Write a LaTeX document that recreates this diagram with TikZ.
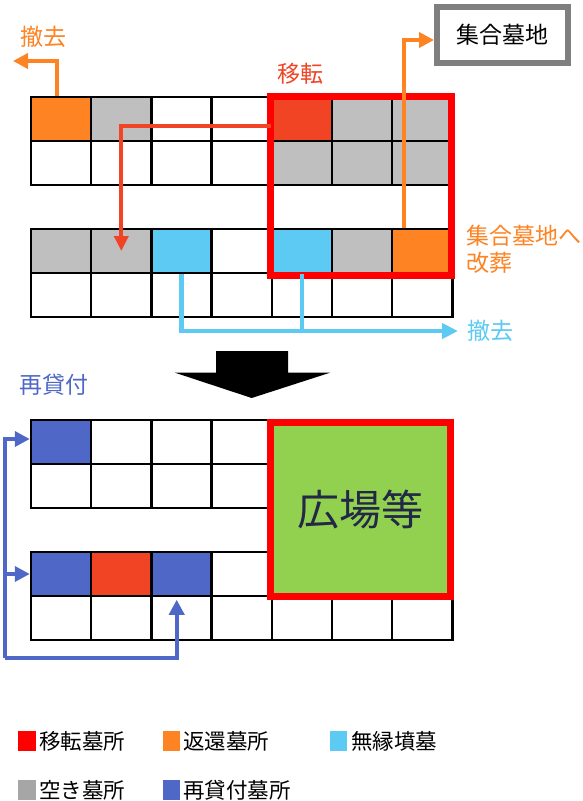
\documentclass[tikz,border=0pt]{standalone}
\usepackage{fontspec}
\newfontfamily\jp{Noto Sans CJK JP}
\usetikzlibrary{arrows.meta}
\definecolor{cor}{RGB}{253,131,35}
\definecolor{cred}{RGB}{240,68,37}
\definecolor{cgr}{RGB}{191,191,191}
\definecolor{ccy}{RGB}{92,202,243}
\definecolor{cbl}{RGB}{79,104,199}
\definecolor{cgreen}{RGB}{146,208,80}
\definecolor{cnavy}{RGB}{34,40,70}
\definecolor{cbox}{RGB}{127,127,127}
\definecolor{clgr}{RGB}{166,166,166}
\begin{document}
\begin{tikzpicture}[x=1pt,y=-1pt,
  cell/.style={draw=black, line width=2.5pt, minimum width=60.2pt, minimum height=44pt, inner sep=0pt},
  lab/.style={font=\jp\fontsize{23}{27}\selectfont, inner sep=0pt},
  frame/.style={draw=red, line width=7pt, inner sep=0pt},
  oarr/.style={draw=cor, line width=4.5pt, -{Triangle[width=15pt,length=15pt]}},
  rarr/.style={draw=cred, line width=4pt, -{Triangle[width=14pt,length=15pt]}},
  carr/.style={draw=ccy, line width=4.3pt, -{Triangle[width=15pt,length=16pt]}},
  cline/.style={draw=ccy, line width=4.3pt},
  barr/.style={draw=cbl, line width=4pt, -{Triangle[width=15pt,length=15pt]}},
  legsq/.style={minimum width=17.5pt, minimum height=20pt, inner sep=0pt},
  legtx/.style={font=\jp\fontsize{21.5}{26}\selectfont, inner sep=0pt, anchor=west}
]
\fill[white] (0,0) rectangle (583,801);
\useasboundingbox (0,0) rectangle (583,801);

% grids
\foreach \blk/\yy/\cols in {
  A1/119/{cor,cgr,white,white,cred,cgr,cgr},
  A2/163/{white,white,white,white,cgr,cgr,cgr},
  B1/251/{cgr,cgr,ccy,white,ccy,cgr,cor},
  B2/295/{white,white,white,white,white,white,white},
  C1/442/{cbl,white,white,white,white,white,white},
  C2/486/{white,white,white,white,white,white,white},
  D1/574/{cbl,cred,cbl,white,white,white,white},
  D2/618/{white,white,white,white,white,white,white}}
{
  \foreach \col [count=\c] in \cols {
    \node[cell, fill=\col] (\blk-\c) at ({31+60.2*(\c-0.5)},\yy) {};
  }
}

% red frame (top)
\node[frame, minimum width=181pt, minimum height=178.5pt] (frameA) at (360.5,185.75) {};

% plaza
\node[frame, fill=cgreen, minimum width=180pt, minimum height=174pt, text=cnavy,
      font=\jp\fontsize{42}{48}\selectfont] (plaza) at (360.5,509.5) {広場等};

% collective grave box
\node[draw=cbox, line width=6pt, minimum width=131pt, minimum height=56pt, inner sep=0pt,
      font=\jp\fontsize{23}{28}\selectfont] (coll) at (502.5,35) {集合墓地};

% labels
\node[lab, text=cor] (lremoveA) at (43,37) {撤去};
\node[lab, text=cor, anchor=north west, align=left] (lreburial) at (466,225) {集合墓地へ\\改葬};
\node[lab, text=cred] (lmove) at (300,74) {移転};
\node[lab, text=ccy, anchor=west] (lremoveB) at (467,331) {撤去};
\node[lab, text=cbl] (lrelend) at (54,385) {再貸付};

% arrows
\coordinate (orgA) at (13,61);
\draw[oarr] ([xshift=-4pt]A1-1.north) |- (orgA);
\draw[oarr] ([xshift=-18.3pt]B1-7.north) |- ([yshift=-5pt]coll.west);
\draw[rarr] ([yshift=-6.5pt]A1-5.west) -| (B1-2.center);
\coordinate (cyend) at (458,331);
\draw[cline] (B1-5.south) -- (B1-5.south |- cyend);
\draw[carr] (B1-3.south) |- (cyend);

\coordinate (bl) at (5,658);
\draw[barr] (bl) |- ([yshift=3pt]C1-1.west);
\draw[barr] (bl |- D1-1.west) -- (D1-1.west);
\draw[barr] (bl) -| ([xshift=-4.8pt,yshift=-5pt]D2-3.north);

% big down arrow
\fill[black] (216,351) -- (288,351) -- (288,372.7) -- (330,372.7) -- (251.7,398)
  -- (175,372.7) -- (216,372.7) -- cycle;

% legend
\node[legsq, fill=red] (sq1) at (27,741) {};
\node[legtx] (tx1) at (39,741) {移転墓所};
\node[legsq, fill=cor] (sq2) at (171.5,741) {};
\node[legtx] (tx2) at (183,741) {返還墓所};
\node[legsq, fill=ccy] (sq3) at (338.5,741) {};
\node[legtx] (tx3) at (351,741) {無縁墳墓};
\node[legsq, fill=clgr] (sq4) at (27,790) {};
\node[legtx] (tx4) at (39,790) {空き墓所};
\node[legsq, fill=cbl] (sq5) at (171.5,790) {};
\node[legtx] (tx5) at (183,790) {再貸付墓所};
\end{tikzpicture}
\end{document}
